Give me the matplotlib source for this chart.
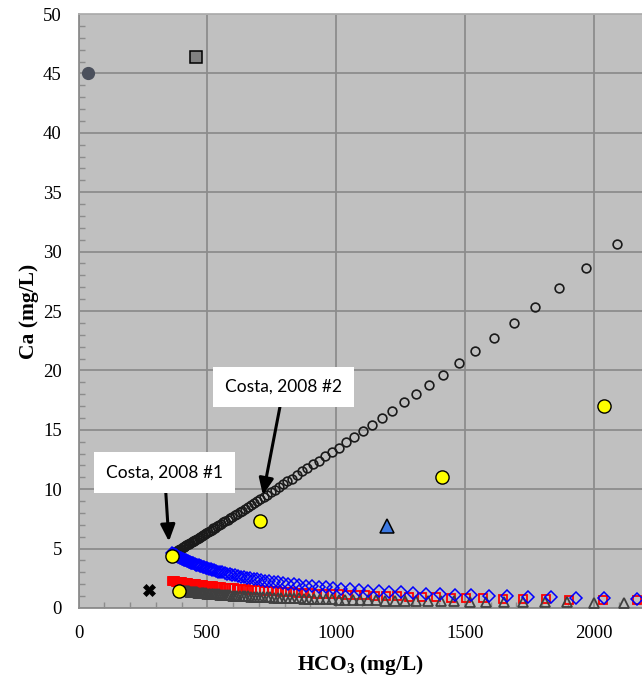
import matplotlib
matplotlib.use("Agg")
import matplotlib.pyplot as plt
from matplotlib.ticker import MultipleLocator

plt.rcParams["mathtext.fontset"] = "custom"
plt.rcParams["mathtext.rm"] = "Liberation Serif:bold"
plt.rcParams["mathtext.bf"] = "Liberation Serif:bold"
plt.rcParams["mathtext.it"] = "Liberation Serif:bold"

# model curve: Costa, 2008 #2 (open black circles)
circ_x = [2090, 1972, 1867, 1774, 1691, 1612, 1541, 1476, 1416, 1361, 1310, 1263, 1219, 1178,
          1140, 1104, 1071, 1040, 1011, 984, 958, 934, 911, 889, 868, 848, 829, 811, 794, 778,
          762, 747, 733, 719, 706, 693, 681, 669, 658, 647, 636, 626, 616, 606, 597, 588, 579,
          570, 562, 554, 546, 538, 531, 524, 517, 510, 503, 496, 490, 484, 478, 472, 466, 460,
          454, 449, 444, 439, 434, 429, 424, 419, 414, 409, 404, 399, 395, 391, 387, 383, 379,
          375, 371, 367, 363]
circ_y = [30.6, 28.6, 26.9, 25.3, 24.0, 22.7, 21.6, 20.6, 19.6, 18.8, 18.0, 17.3, 16.6, 16.0,
          15.4, 14.9, 14.4, 13.95, 13.5, 13.1, 12.8, 12.4, 12.1, 11.8, 11.5, 11.2, 10.9, 10.65,
          10.4, 10.2, 9.95, 9.75, 9.55, 9.35, 9.2, 9.0, 8.85, 8.65, 8.5, 8.35, 8.2, 8.05, 7.95,
          7.8, 7.65, 7.55, 7.4, 7.3, 7.2, 7.1, 7.0, 6.9, 6.75, 6.7, 6.6, 6.5, 6.4, 6.3, 6.25,
          6.15, 6.05, 6.0, 5.9, 5.8, 5.75, 5.65, 5.6, 5.55, 5.45, 5.4, 5.35, 5.3, 5.2, 5.15, 5.1,
          5.0, 4.95, 4.9, 4.85, 4.8, 4.75, 4.7, 4.65, 4.6, 4.55]

# model curve: Costa, 2008 #1 (open blue diamonds)
diam_x = [2170, 2039, 1933, 1836, 1745, 1665, 1594, 1525, 1463, 1405, 1351, 1300, 1252, 1207,
          1165, 1126, 1089, 1054, 1021, 990, 961, 933, 907, 882, 858, 836, 815, 795, 776, 758,
          741, 725, 709, 694, 680, 666, 653, 641, 629, 618, 607, 597, 587, 577, 568, 559, 551,
          543, 535, 527, 520, 513, 506, 500, 494, 488, 482, 476, 471, 466, 461, 456, 451, 446,
          442, 438, 434, 430, 426, 422, 418, 414, 410, 406, 402, 398, 394, 390, 386, 382, 378,
          374, 370, 366, 362]
diam_y = [0.75, 0.80, 0.85, 0.90, 0.94, 0.99, 1.03, 1.08, 1.13, 1.18, 1.22, 1.27, 1.32, 1.37,
          1.42, 1.47, 1.52, 1.57, 1.63, 1.68, 1.73, 1.78, 1.83, 1.88, 1.94, 1.99, 2.04, 2.09,
          2.15, 2.20, 2.25, 2.30, 2.35, 2.40, 2.45, 2.50, 2.55, 2.60, 2.65, 2.70, 2.75, 2.79,
          2.84, 2.89, 2.94, 2.99, 3.03, 3.07, 3.12, 3.17, 3.21, 3.25, 3.30, 3.34, 3.38, 3.42,
          3.47, 3.51, 3.55, 3.59, 3.62, 3.66, 3.71, 3.75, 3.78, 3.82, 3.85, 3.89, 3.92, 3.96,
          4.00, 4.04, 4.08, 4.12, 4.16, 4.20, 4.24, 4.29, 4.33, 4.38, 4.42, 4.47, 4.52, 4.57,
          4.62]

# open red squares
sq_x = [2170, 2036, 1905, 1814, 1726, 1649, 1571, 1505, 1445, 1388, 1335, 1285, 1238, 1194,
        1153, 1114, 1078, 1044, 1012, 982, 953, 926, 900, 876, 853, 831, 810, 790, 771, 753,
        736, 720, 704, 689, 675, 662, 649, 637, 625, 614, 603, 593, 583, 573, 564, 555, 547,
        539, 531, 523, 516, 509, 502, 496, 490, 484, 478, 472, 467, 462, 457, 452, 447, 442,
        438, 434, 430, 426, 422, 418, 414, 410, 406, 402, 398, 394, 390, 386, 382, 378, 374,
        370, 366, 362]
sq_y = [0.65, 0.68, 0.71, 0.74, 0.77, 0.79, 0.82, 0.85, 0.88, 0.90, 0.93, 0.95, 0.98, 1.01,
        1.03, 1.06, 1.09, 1.11, 1.14, 1.16, 1.19, 1.21, 1.24, 1.26, 1.29, 1.31, 1.34, 1.36,
        1.39, 1.41, 1.43, 1.46, 1.48, 1.50, 1.52, 1.54, 1.57, 1.59, 1.61, 1.63, 1.65, 1.67,
        1.69, 1.71, 1.72, 1.74, 1.76, 1.78, 1.80, 1.81, 1.83, 1.85, 1.86, 1.88, 1.89, 1.91,
        1.92, 1.94, 1.95, 1.97, 1.98, 2.00, 2.01, 2.02, 2.04, 2.05, 2.06, 2.07, 2.09, 2.10,
        2.11, 2.12, 2.14, 2.15, 2.16, 2.18, 2.19, 2.20, 2.22, 2.23, 2.25, 2.26, 2.28, 2.29]

# open dark grey triangles
tri_x = [2117, 2000, 1898, 1810, 1726, 1652, 1584, 1519, 1459, 1406, 1357, 1311, 1268, 1228,
         1191, 1156, 1124, 1093, 1064, 1036, 1010, 985, 961, 938, 916, 895, 875, 856, 838, 821,
         804, 788, 773, 758, 744, 730, 717, 704, 692, 680, 669, 658, 647, 637, 627, 617, 608,
         599, 590, 582, 574, 566, 558, 551, 544, 537, 530, 524, 518, 512, 506, 500, 494, 489,
         484, 479, 474, 469, 464, 460, 456, 452, 448, 444, 440, 436, 432, 428, 424, 420, 416,
         412, 408, 404, 400, 396, 392]
tri_y = [0.45, 0.46, 0.48, 0.49, 0.50, 0.52, 0.53, 0.54, 0.56, 0.57, 0.58, 0.60, 0.61, 0.62,
         0.63, 0.65, 0.66, 0.67, 0.68, 0.70, 0.71, 0.72, 0.74, 0.75, 0.76, 0.77, 0.79, 0.80,
         0.81, 0.83, 0.84, 0.85, 0.86, 0.88, 0.89, 0.90, 0.91, 0.93, 0.94, 0.95, 0.96, 0.98,
         0.99, 1.00, 1.02, 1.03, 1.04, 1.05, 1.07, 1.08, 1.09, 1.10, 1.12, 1.13, 1.14, 1.15,
         1.16, 1.17, 1.18, 1.20, 1.21, 1.22, 1.23, 1.24, 1.25, 1.26, 1.28, 1.29, 1.30, 1.31,
         1.32, 1.33, 1.34, 1.35, 1.36, 1.37, 1.38, 1.39, 1.40, 1.41, 1.42, 1.44, 1.45, 1.46,
         1.47, 1.49, 1.50]

# measured samples
yellow_x = [364, 392, 704, 1411, 2040]
yellow_y = [4.4, 1.45, 7.3, 11.05, 17.0]
dot_x, dot_y = [38], [45.0]
gsq_x, gsq_y = [456], [46.35]
btri_x, btri_y = [1199], [6.9]
cross_x, cross_y = [273], [1.5]

fig = plt.figure(figsize=(6.42, 6.81), dpi=100)
ax = fig.add_axes([0.1223, 0.1072, 0.8777, 0.8722])
ax.set_facecolor("#c0c0c0")

ax.plot(circ_x, circ_y, "o", ms=6.3, mfc="none", mec="#1a1a1a", mew=1.2, zorder=3)
ax.plot(sq_x, sq_y, "s", ms=6.3, mfc="none", mec="red", mew=1.3, zorder=3)
ax.plot(tri_x, tri_y, "^", ms=7.8, mfc="none", mec="#404040", mew=1.3, zorder=3)
ax.plot(diam_x, diam_y, "D", ms=5.8, mfc="none", mec="blue", mew=1.1, zorder=3)

ax.plot(dot_x, dot_y, "o", ms=8.5, mfc="#4b505c", mec="#4b505c", zorder=4)
ax.plot(gsq_x, gsq_y, "s", ms=8.5, mfc="#808080", mec="black", mew=1.1, zorder=4)
ax.plot(btri_x, btri_y, "^", ms=10, mfc="#3c78e0", mec="black", mew=1.1, zorder=4)
ax.plot(cross_x, cross_y, "X", ms=8.5, mfc="black", mec="black", mew=0.5, zorder=4)
ax.plot(yellow_x, yellow_y, "o", ms=9.5, mfc="#ffff00", mec="black", mew=1.0, zorder=5)

ax.set_xlim(0, 2188)
ax.set_ylim(0, 50)
ax.xaxis.set_major_locator(MultipleLocator(500))
ax.xaxis.set_minor_locator(MultipleLocator(100))
ax.yaxis.set_major_locator(MultipleLocator(5))
ax.yaxis.set_minor_locator(MultipleLocator(1))
ax.grid(True, which="major", color="#8c8c8c", lw=1.3, zorder=1)
ax.set_axisbelow(True)
ax.tick_params(which="both", direction="in", color="#8c8c8c", width=1.0,
               top=False, right=False, labelsize=13.5, pad=12)
ax.tick_params(which="major", length=0)
ax.tick_params(which="minor", length=4)
for lab in ax.get_xticklabels() + ax.get_yticklabels():
    lab.set_fontfamily("Liberation Serif")
ax.spines["right"].set_visible(False)
ax.spines["top"].set_color("#b0b0b0")
ax.spines["left"].set_color("#8c8c8c")
ax.spines["bottom"].set_color("#8c8c8c")
for s in ("left", "bottom", "top"):
    ax.spines[s].set_linewidth(1.3)

ax.set_xlabel("HCO$_3$ (mg/L)", fontfamily="Liberation Serif", fontweight="bold",
              fontsize=15.5, labelpad=8)
ax.set_ylabel("Ca (mg/L)", fontfamily="Liberation Serif", fontweight="bold",
              fontsize=15.5, labelpad=3)

box = dict(boxstyle="square,pad=0.7", fc="white", ec="none")
arrow = dict(arrowstyle="-|>,head_length=0.8,head_width=0.35",
             color="black", lw=2.2, shrinkA=0, shrinkB=0)
ax.annotate("Costa, 2008 #1", xy=(351, 5.6), xytext=(334, 11.4), ha="center", va="center",
            fontsize=12.5, fontfamily="Lato", bbox=box, zorder=6, arrowprops=arrow)
ax.annotate("Costa, 2008 #2", xy=(716, 9.5), xytext=(797, 18.6), ha="center", va="center",
            fontsize=12.5, fontfamily="Lato", bbox=box, zorder=6, arrowprops=arrow)

fig.savefig("out.png", dpi=100, facecolor="white")
